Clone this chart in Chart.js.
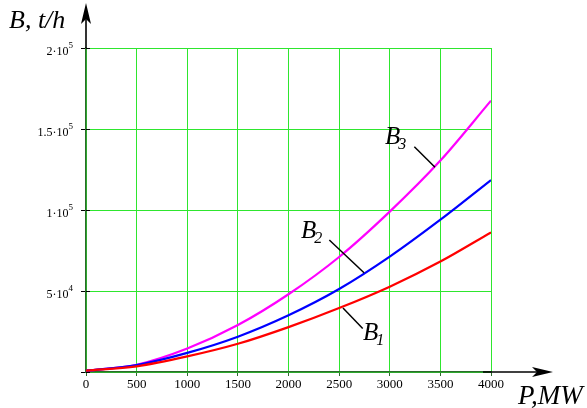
<!DOCTYPE html>
<html>
<head>
<meta charset="utf-8">
<script src="https://cdn.jsdelivr.net/npm/chart.js@4.4.1/dist/chart.umd.min.js"></script>
<style>
html,body{margin:0;padding:0;background:#fff;}
#wrap{width:587px;height:408px;}
</style>
</head>
<body>
<div id="wrap"><canvas id="c" width="587" height="408"></canvas></div>
<script>
// ---- data ----
const powerMW = [0, 500, 1000, 1500, 2000, 2500, 3000, 3500, 4000];
const b1Values = [800, 3500, 9600, 17400, 27700, 39500, 52700, 68200, 86200];
const b2Values = [800, 4300, 11800, 21800, 35000, 51200, 71200, 94000, 118500];
const b3Values = [800, 4500, 14500, 29000, 48000, 71000, 99000, 130500, 167500];
const yTickValues = [0, 50000, 100000, 150000, 200000];
const yTickBases = ['', '5\u00B710', '1\u00B710', '1.5\u00B710', '2\u00B710'];
const yTickExps = ['', '4', '5', '5', '5'];
const seriesNames = ['1', '2', '3'];

const SERIF = "'Liberation Serif','Times New Roman',serif";
const GRID = '#2ee62e';
const AXIS = '#2b6b2b';

function pts(vals){ return powerMW.map((x,i)=>({x:x, y:vals[i]})); }

// annotation anchors in data units: label position, leader start, leader end
const notes = [
  {name: seriesNames[2], label:[2953,140700], from:[3243,139100], to:[3447,126400]},
  {name: seriesNames[1], label:[2123, 82700], from:[2403, 81500], to:[2746, 61300]},
  {name: seriesNames[0], label:[2736, 19750], from:[2538, 39500], to:[2733, 26900]}
];

const decor = {
  id:'decor',
  afterDraw(chart){
    const ctx = chart.ctx, xs = chart.scales.x, ys = chart.scales.y, ca = chart.chartArea;
    const x0 = xs.getPixelForValue(0), y0 = ys.getPixelForValue(0);
    ctx.save();
    // inward tick marks on y axis
    ctx.strokeStyle = '#000'; ctx.lineWidth = 1;
    yTickValues.forEach(v=>{
      const y = Math.round(ys.getPixelForValue(v))+0.5;
      ctx.beginPath(); ctx.moveTo(x0, y); ctx.lineTo(x0+4, y); ctx.stroke();
    });
    // y tick labels with superscript exponents
    ctx.fillStyle = '#000'; ctx.textBaseline = 'alphabetic';
    yTickValues.forEach((v,i)=>{
      if(!yTickBases[i]) return;
      const y = ys.getPixelForValue(v);
      const right = x0 - 13;
      ctx.font = '9px ' + SERIF;
      ctx.textAlign = 'right';
      const ew = ctx.measureText(yTickExps[i]).width;
      ctx.fillText(yTickExps[i], right, y + 0);
      ctx.font = '12px ' + SERIF;
      ctx.fillText(yTickBases[i], right - ew, y + 7);
    });
    // arrows
    ctx.strokeStyle = '#000'; ctx.fillStyle = '#000'; ctx.lineWidth = 1.6;
    ctx.beginPath(); ctx.moveTo(x0, ca.top); ctx.lineTo(x0, 12); ctx.stroke();
    ctx.beginPath(); ctx.moveTo(x0, 3); ctx.lineTo(x0-5, 24); ctx.lineTo(x0, 19); ctx.lineTo(x0+5, 24); ctx.closePath(); ctx.fill();
    const xe = xs.getPixelForValue(4000);
    ctx.beginPath(); ctx.moveTo(xe-8, y0); ctx.lineTo(546, y0); ctx.stroke();
    ctx.beginPath(); ctx.moveTo(553, y0); ctx.lineTo(532, y0-5); ctx.lineTo(537, y0); ctx.lineTo(532, y0+5); ctx.closePath(); ctx.fill();
    // axis titles
    ctx.textAlign = 'left';
    ctx.font = 'italic 26px ' + SERIF;
    ctx.fillText('B, t/h', 9, 28);
    ctx.font = 'italic 27px ' + SERIF;
    ctx.fillText('P,MW', 518, 404);
    // series labels with leaders
    notes.forEach(n=>{
      const lx = xs.getPixelForValue(n.label[0]), ly = ys.getPixelForValue(n.label[1]);
      ctx.font = 'italic 25px ' + SERIF;
      ctx.fillText('B', lx, ly);
      const w = ctx.measureText('B').width;
      ctx.font = 'italic 16px ' + SERIF;
      ctx.fillText(n.name, lx + w - 2, ly + 5);
      ctx.lineWidth = 1.5; ctx.strokeStyle = '#000';
      ctx.beginPath();
      ctx.moveTo(xs.getPixelForValue(n.from[0]), ys.getPixelForValue(n.from[1]));
      ctx.lineTo(xs.getPixelForValue(n.to[0]), ys.getPixelForValue(n.to[1]));
      ctx.stroke();
    });
    ctx.restore();
  }
};

new Chart(document.getElementById('c'), {
  type:'line',
  data:{
    datasets:[
      {label:'B1', data:pts(b1Values), borderColor:'#ff0000', borderWidth:2.2, pointRadius:0, cubicInterpolationMode:'monotone', fill:false},
      {label:'B2', data:pts(b2Values), borderColor:'#0000ff', borderWidth:2.2, pointRadius:0, cubicInterpolationMode:'monotone', fill:false},
      {label:'B3', data:pts(b3Values), borderColor:'#ff00ff', borderWidth:2.2, pointRadius:0, cubicInterpolationMode:'monotone', fill:false}
    ]
  },
  options:{
    responsive:false, animation:false, devicePixelRatio:1,
    layout:{padding:{top:48, right:96, left:0, bottom:0}},
    plugins:{legend:{display:false}, tooltip:{enabled:false}},
    scales:{
      x:{
        type:'linear', min:0, max:4000,
        afterFit(s){ s.height = 36; },
        ticks:{stepSize:500, color:'#000', font:{family:SERIF, size:13}, padding:1, maxRotation:0,
          callback(v){ return String(v); }},
        grid:{color:GRID, lineWidth:1, tickLength:4, tickColor:AXIS},
        border:{color:AXIS, width:1.5}
      },
      y:{
        type:'linear', min:0, max:200000,
        afterFit(s){ s.width = 86; },
        afterBuildTicks(s){ s.ticks = yTickValues.map(v=>({value:v})); },
        ticks:{color:'#000', font:{family:SERIF, size:12}, padding:9,
          callback(){ return ''; }},
        grid:{color:GRID, lineWidth:1, tickLength:5, tickColor:'#000'},
        border:{color:AXIS, width:1.5}
      }
    }
  },
  plugins:[decor]
});
</script>
</body>
</html>
